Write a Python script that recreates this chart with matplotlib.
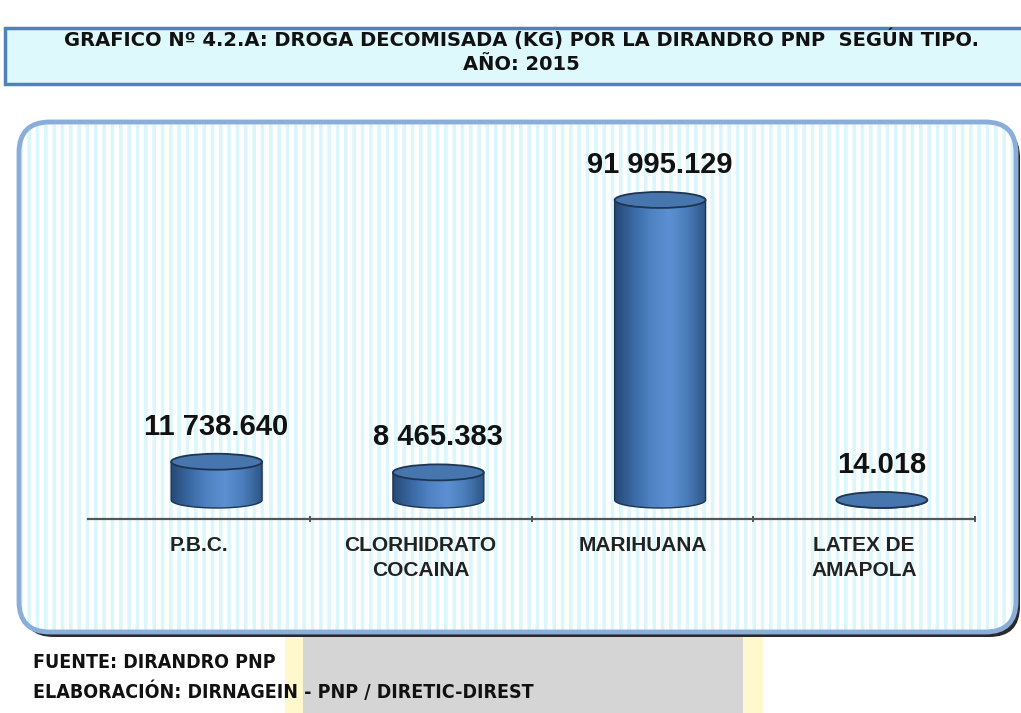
import numpy as np
import matplotlib
matplotlib.use("Agg")
import matplotlib.pyplot as plt
from matplotlib.patches import Ellipse, FancyBboxPatch, Rectangle, PathPatch
from matplotlib.path import Path
from matplotlib.colors import LinearSegmentedColormap

# data
categorias = ["P.B.C.", "CLORHIDRATO\nCOCAINA", "MARIHUANA", "LATEX DE\nAMAPOLA"]
kilos = [11738.640, 8465.383, 91995.129, 14.018]
etiquetas = ["11 738.640", "8 465.383", "91 995.129", "14.018"]

titulo = "GRAFICO Nº 4.2.A: DROGA DECOMISADA (KG) POR LA DIRANDRO PNP  SEGÚN TIPO.\nAÑO: 2015"
fuente = "FUENTE: DIRANDRO PNP"
elaboracion = "ELABORACIÓN: DIRNAGEIN - PNP / DIRETIC-DIREST"

W, H = 1021, 713
plt.rcParams["hatch.linewidth"] = 2.6
fig = plt.figure(figsize=(W / 100, H / 100), dpi=100)
fig.patch.set_facecolor("white")


def fx(x):
    return x / W


def fy(y):
    return 1 - y / H


# watermark behind footer
fig.patches.append(Rectangle((fx(285), fy(713)), fx(478), fy(620) - fy(713),
                             transform=fig.transFigure, facecolor="#fff8cc",
                             edgecolor="none", zorder=0))
fig.patches.append(Rectangle((fx(303), fy(713)), fx(440), fy(620) - fy(713),
                             transform=fig.transFigure, facecolor="#d5d5d5",
                             edgecolor="none", zorder=0))

# title box
fig.patches.append(Rectangle((fx(5), fy(84)), fx(1030), fy(28) - fy(84),
                             transform=fig.transFigure, facecolor="#ddf9fc",
                             edgecolor="#4f81bd", linewidth=2.5, zorder=1))
fig.text(fx(521), fy(51), titulo, ha="center", va="center", fontsize=14,
         fontweight="bold", family="DejaVu Sans",
         linespacing=1.3, color="#111111", zorder=2)

# chart box: shadow, hatched fill, border
bx, by, bw, bh = 19, 122, 997, 510
kw = dict(boxstyle="round,pad=0,rounding_size=0.03", transform=fig.transFigure)
fig.patches.append(FancyBboxPatch((fx(bx + 4), fy(by + bh + 5)), fx(bw), fy(by) - fy(by + bh),
                                  mutation_aspect=W / H, facecolor="#2a2a2a",
                                  edgecolor="none", zorder=1, **kw))
fig.patches.append(FancyBboxPatch((fx(bx), fy(by + bh)), fx(bw), fy(by) - fy(by + bh),
                                  mutation_aspect=W / H, facecolor="white",
                                  edgecolor="#dcf7fb", hatch="||", linewidth=0,
                                  zorder=1, **kw))
fig.patches.append(FancyBboxPatch((fx(bx), fy(by + bh)), fx(bw), fy(by) - fy(by + bh),
                                  mutation_aspect=W / H, facecolor="none",
                                  edgecolor="#8aaed9", linewidth=3.5, zorder=1, **kw))

# axes
ax = fig.add_axes([fx(88), fy(519), fx(975 - 88), fy(130) - fy(519)])
ax.set_facecolor("none")
ax.set_zorder(3)
for s in ["top", "left", "right"]:
    ax.spines[s].set_visible(False)
ax.spines["bottom"].set_color("#555555")
ax.spines["bottom"].set_linewidth(1.6)
ax.set_yticks([])
ax.set_xticks(range(len(categorias)))
ax.set_xticklabels(categorias, fontsize=15, fontweight="bold", family="Liberation Sans",
                   color="#222222", linespacing=1.45)
ax.tick_params(axis="x", which="major", length=0, pad=12)
ax.set_xticks([0.5, 1.5, 2.5, 3.5], minor=True)
ax.tick_params(axis="x", which="minor", length=5, width=1.4, color="#555555", direction="inout")
for t in ax.get_xticklabels():
    t.set_multialignment("center")

cmap = LinearSegmentedColormap.from_list(
    "cil", ["#264a75", "#3a68a3", "#4f83c4", "#5b90d2", "#4a7cb9", "#2f5687"])
grad = np.linspace(0, 1, 200).reshape(1, -1)

ancho = 0.41
elip = 4900
desfase = 0.08
for i, (v, lab) in enumerate(zip(kilos, etiquetas)):
    c = i + desfase
    x0, x1 = c - ancho / 2, c + ancho / 2
    t = np.linspace(np.pi, 2 * np.pi, 60)
    pts = [(x0, v), (x0, 0)] + [(c + ancho / 2 * np.cos(a), elip / 2 * np.sin(a)) for a in t] + [(x1, v), (x0, v)]
    clip = PathPatch(Path(pts), transform=ax.transData, facecolor="none", edgecolor="none")
    ax.add_patch(clip)
    im = ax.imshow(grad, cmap=cmap, extent=(x0, x1, -elip / 2, v), aspect="auto",
                   zorder=2, interpolation="bilinear")
    im.set_clip_path(clip)
    ax.add_patch(PathPatch(Path(pts), facecolor="none", edgecolor="#1e3452",
                           linewidth=1.0, zorder=3))
    ax.add_patch(Ellipse((c, v), ancho, elip, facecolor="#4775ad",
                         edgecolor="#1e3452", linewidth=1.3, zorder=4))
    ax.annotate(lab, (c, v + elip / 2), xytext=(0, 9.5), textcoords="offset points",
                ha="center", va="bottom", fontsize=21, fontweight="bold",
                family="Liberation Sans", color="#111111")

ax.set_xlim(-0.5, 3.5)
ax.set_ylim(-5825, 113440)

# footer
fig.text(fx(33), fy(662), fuente, ha="left", va="center", fontsize=14,
         fontweight="bold", family="DejaVu Sans", fontstretch="condensed", color="#111111")
fig.text(fx(33), fy(692), elaboracion, ha="left", va="center", fontsize=14,
         fontweight="bold", family="DejaVu Sans", fontstretch="condensed", color="#111111")

fig.savefig("out.png", dpi=100)
